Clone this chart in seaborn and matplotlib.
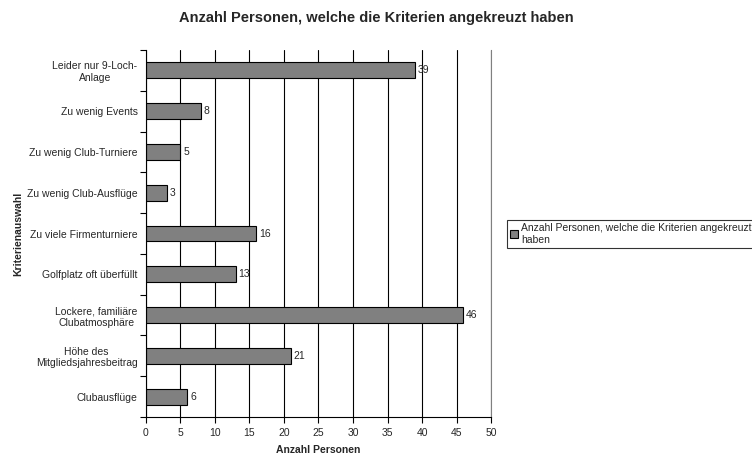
import matplotlib
matplotlib.use("Agg")
import matplotlib.pyplot as plt
import seaborn as sns
import pandas as pd
from matplotlib.patches import Patch
from matplotlib.ticker import MultipleLocator, FixedLocator

kriterien = [
    "Leider nur 9-Loch-\nAnlage",
    "Zu wenig Events",
    "Zu wenig Club-Turniere",
    "Zu wenig Club-Ausflüge",
    "Zu viele Firmenturniere",
    "Golfplatz oft überfüllt",
    "Lockere, familiäre\nClubatmosphäre",
    "Höhe des\nMitgliedsjahresbeitrag",
    "Clubausflüge",
]
anzahl = [39, 8, 5, 3, 16, 13, 46, 21, 6]
serie = "Anzahl Personen, welche die Kriterien angekreuzt haben"

df = pd.DataFrame({"Kriterium": kriterien, "Anzahl": anzahl})

sns.set_style("white")
plt.rcParams["font.family"] = ["Liberation Sans", "DejaVu Sans"]

fig = plt.figure(figsize=(7.52, 4.55), dpi=100)
ax = fig.add_axes([0.194, 0.0835, 0.459, 0.8066])

sns.barplot(data=df, x="Anzahl", y="Kriterium", orient="h", color="#808080",
            saturation=1, edgecolor="black", linewidth=0.8, width=0.39, ax=ax)

ax.set_xlim(0, 50)
ax.set_ylim(len(kriterien) - 0.5, -0.5)
ax.xaxis.set_major_locator(MultipleLocator(5))
ax.grid(axis="x", color="black", linewidth=0.8)
ax.set_axisbelow(True)

for i, v in enumerate(anzahl):
    ax.text(v + 0.4, i, str(v), va="center", ha="left", fontsize=7.5)

ax.spines["top"].set_visible(False)
ax.spines["right"].set_color("#808080")
ax.spines["right"].set_linewidth(0.8)
ax.spines["left"].set_color("black")
ax.spines["bottom"].set_color("black")
ax.spines["left"].set_linewidth(0.8)
ax.spines["bottom"].set_linewidth(0.8)

ax.yaxis.set_minor_locator(FixedLocator([i - 0.5 for i in range(len(kriterien) + 1)]))
ax.tick_params(axis="y", which="major", length=0, labelsize=7.5, pad=6)
ax.tick_params(axis="y", which="minor", length=4, width=0.8, color="black", direction="out", left=True)
ax.tick_params(axis="x", which="major", length=4, width=0.8, color="black", direction="out",
               bottom=True, labelsize=7.5, pad=4)
for lbl in ax.get_yticklabels():
    lbl.set_multialignment("center")

ax.set_xlabel("Anzahl Personen", fontsize=7.5, fontweight="bold", labelpad=5)
ax.set_ylabel("Kriterienauswahl", fontsize=7.5, fontweight="bold", labelpad=3)
fig.suptitle(serie, x=0.5, y=0.975, fontsize=10.5, fontweight="bold")

leg = fig.legend(handles=[Patch(facecolor="#808080", edgecolor="black", linewidth=0.8,
                                label="Anzahl Personen, welche die Kriterien angekreuzt\nhaben")],
                 loc="center left", bbox_to_anchor=(0.674, 0.486), fontsize=7.5,
                 frameon=True, fancybox=False, handlelength=0.8, handleheight=0.8,
                 handletextpad=0.3, borderpad=0.3, borderaxespad=0)
leg.get_frame().set_edgecolor("black")
leg.get_frame().set_linewidth(0.8)

fig.savefig("out.png", dpi=100)
